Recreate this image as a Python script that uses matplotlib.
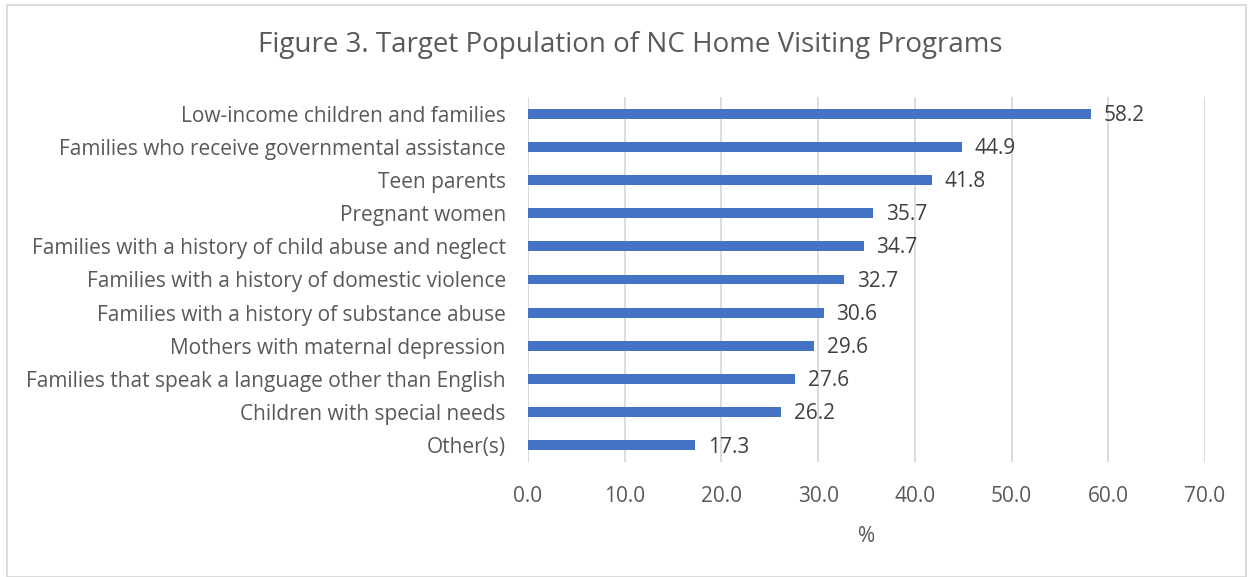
import matplotlib
matplotlib.use("Agg")
import matplotlib.pyplot as plt
from matplotlib.patches import Rectangle

categories = [
    "Low-income children and families",
    "Families who receive governmental assistance",
    "Teen parents",
    "Pregnant women",
    "Families with a history of child abuse and neglect",
    "Families with a history of domestic violence",
    "Families with a history of substance abuse",
    "Mothers with maternal depression",
    "Families that speak a language other than English",
    "Children with special needs",
    "Other(s)",
]
values = [58.2, 44.9, 41.8, 35.7, 34.7, 32.7, 30.6, 29.6, 27.6, 26.2, 17.3]
xticks = [0, 10, 20, 30, 40, 50, 60, 70]
title = "Figure 3. Target Population of NC Home Visiting Programs"
xlabel = "%"

plt.rcParams['font.family'] = ['Open Sans', 'DejaVu Sans']
txt = '#595959'

fig = plt.figure(figsize=(12.53, 5.77), dpi=100)
ax = fig.add_axes([528/1253, 1-462/577, (1205-528)/1253, (462-97)/577])

y = list(range(len(categories)))
ax.barh(y, values, height=0.3, color='#4472C4', zorder=3)
ax.set_ylim(len(categories)-0.5, -0.5)
ax.set_xlim(0, 70)
ax.set_yticks(y)
ax.set_yticklabels(categories, fontsize=15, color=txt)
ax.set_xticks(xticks)
ax.set_xticklabels([f"{t:.1f}" for t in xticks], fontsize=15, color=txt)
ax.tick_params(axis='both', length=0)
ax.tick_params(axis='y', pad=16)
ax.tick_params(axis='x', pad=17)
ax.grid(axis='x', color='#D9D9D9', linewidth=1.3, zorder=0)
for s in ax.spines.values():
    s.set_visible(False)
ax.axvline(0, color='#D9D9D9', linewidth=1.3, zorder=1)

for yi, v in zip(y, values):
    ax.text(v + 1.3, yi + 0.05, f"{v:.1f}", va='center', ha='left', fontsize=15, color='#404040')

ax.set_xlabel(xlabel, fontsize=15, color=txt, labelpad=14)
fig.text(0.503, 1-45/577, title, ha='center', va='center', fontsize=20, color=txt)

fig.patches.append(Rectangle((7/1253, 0), 1-14/1253, 1-5/577, transform=fig.transFigure,
                             fill=False, edgecolor='#D9D9D9', linewidth=1.3))

fig.savefig("out.png", dpi=100, facecolor='white')
